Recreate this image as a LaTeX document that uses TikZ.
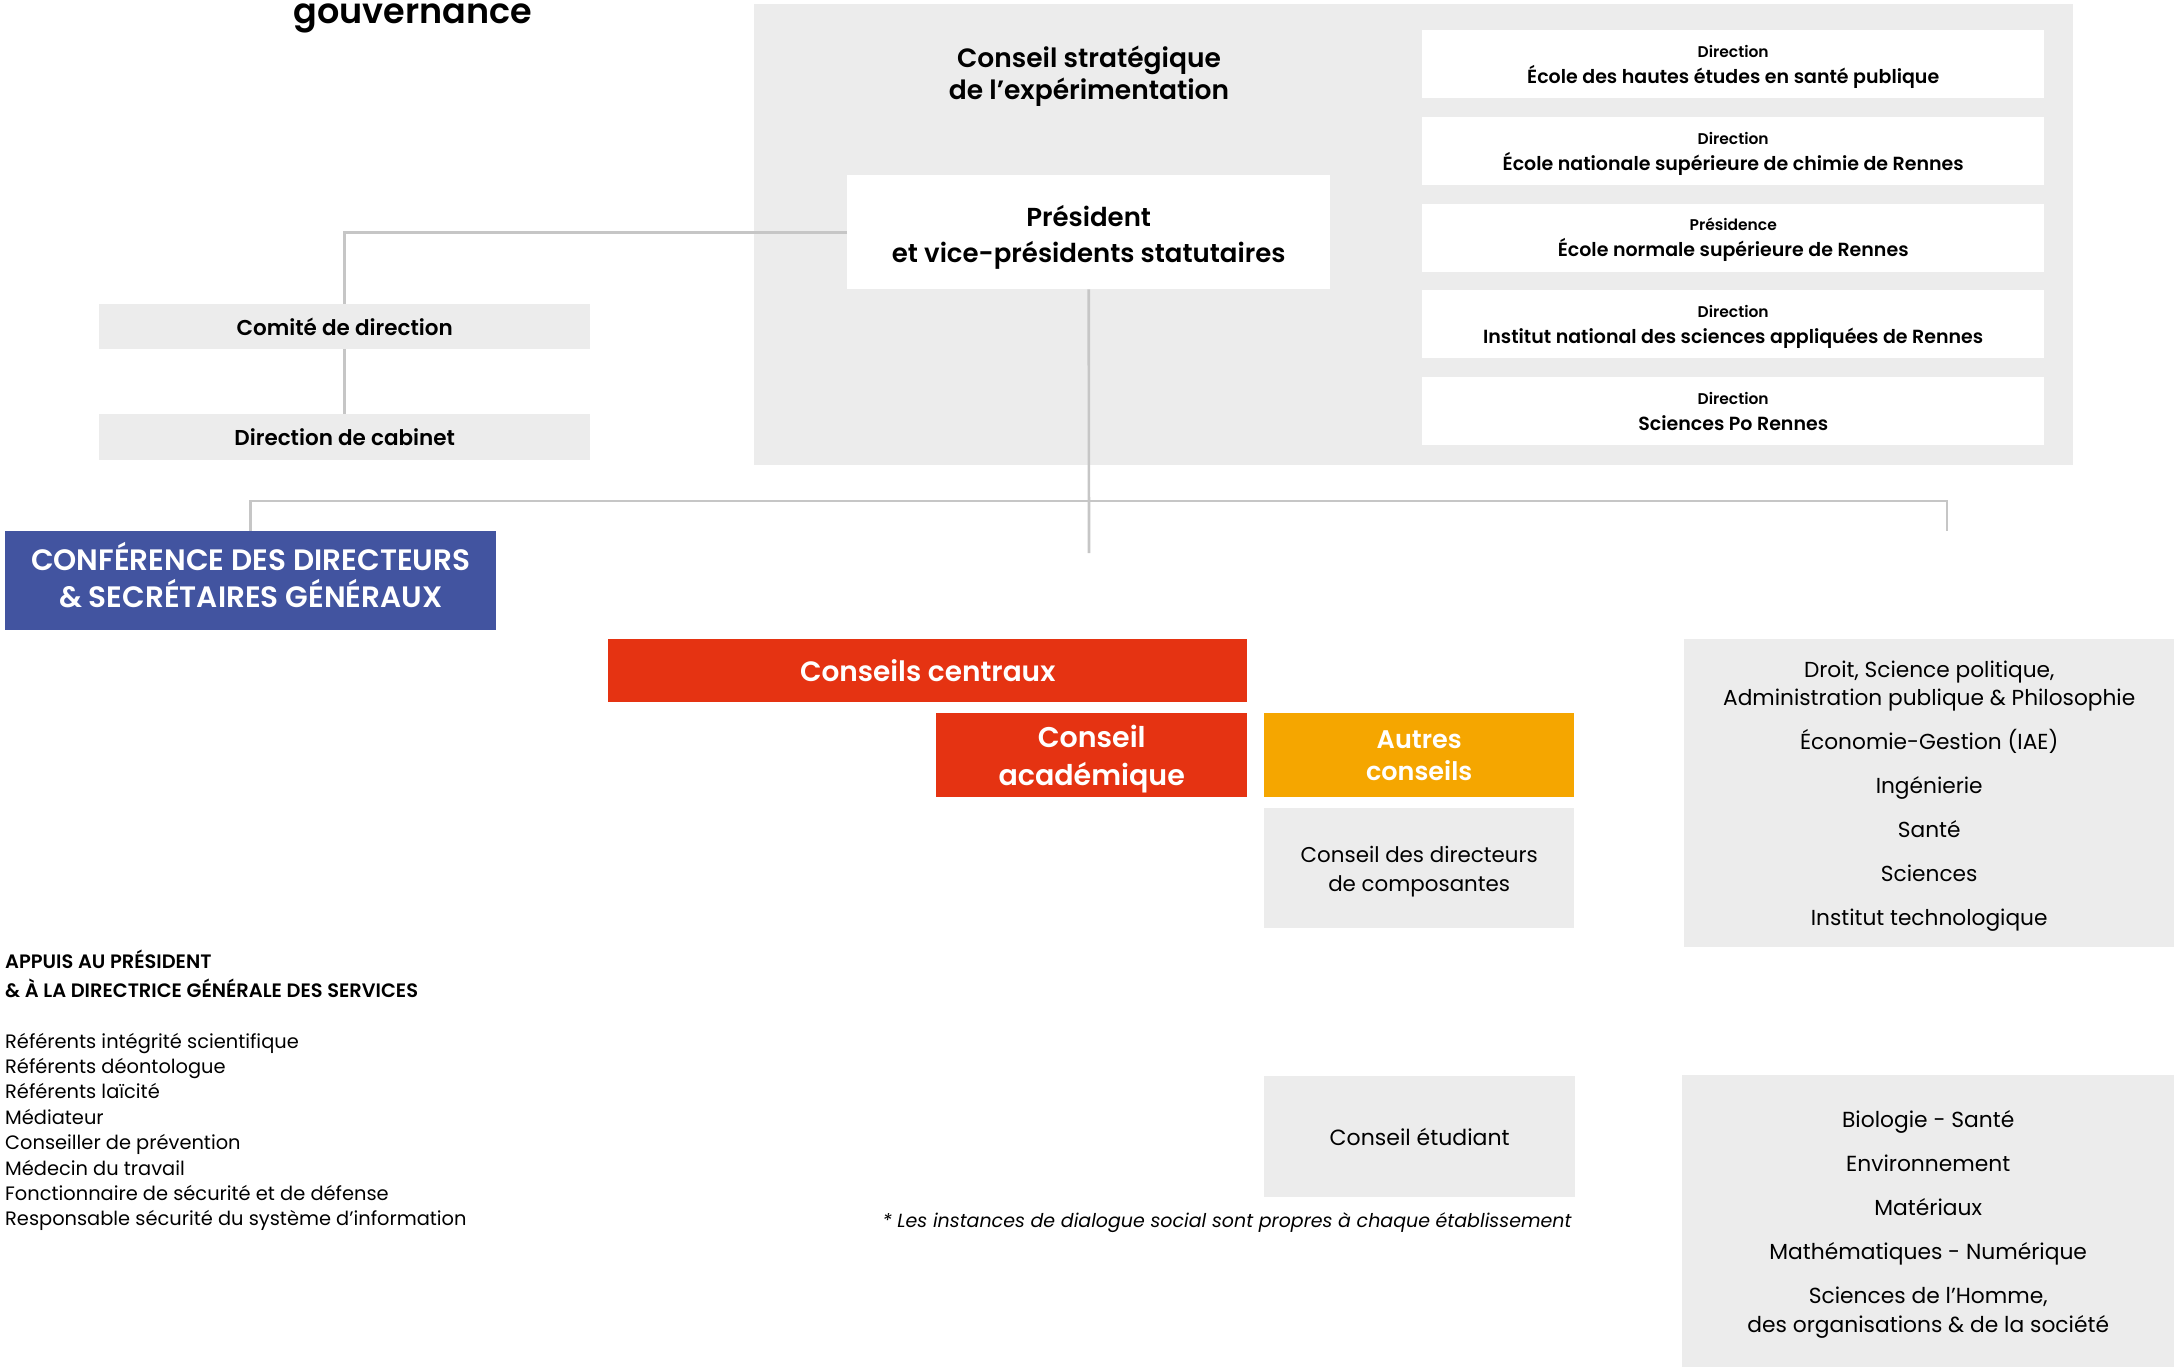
\documentclass[tikz,border=0pt]{standalone}
\usepackage{fontspec}
\setmainfont{Poppins}[BoldFont={Poppins SemiBold}]
\usetikzlibrary{positioning}
\definecolor{panelgrey}{HTML}{ECECEC}
\definecolor{linkgrey}{HTML}{C6C6C6}
\definecolor{confblue}{HTML}{4254A0}
\definecolor{conseilred}{HTML}{E53312}
\definecolor{autresorange}{HTML}{F5A600}
\newcommand{\setfs}[2]{\fontsize{#1}{#2}\selectfont}
\tikzset{
  box/.style={
    anchor=north west,
    inner sep=0pt,
    align=center,
    text=black
  },
  grey box/.style={box, fill=panelgrey},
  white box/.style={box, fill=white},
  colour box/.style={box, fill=#1, text=white},
  last base/.style={text height=#1, text depth=0pt},
  link/.style={draw=linkgrey, line width=2.6pt},
}

\begin{document}
\begin{tikzpicture}[x=1pt,y=-1pt]
\useasboundingbox (0,0) rectangle (2179,1366);
\node[anchor=base, font=\setfs{35}{40}\bfseries] (title) at (413,23) {gouvernance};

% conseil strategique
\node[grey box, minimum width=1319pt, minimum height=461pt] (panel) at (754,4) {};
\node[anchor=center, align=center, font=\setfs{26.5}{32}\bfseries] (cse) at (1089,76) {Conseil stratégique\\de l’expérimentation};
\node[white box, last base=60pt, minimum width=483pt, minimum height=114pt, font=\setfs{26}{36}\bfseries] (pres) at (847,175) {Président\\et vice-présidents statutaires};
\foreach \i/\head/\etab in {1/Direction/École des hautes études en santé publique, 2/Direction/École nationale supérieure de chimie de Rennes, 3/Présidence/École normale supérieure de Rennes, 4/Direction/Institut national des sciences appliquées de Rennes, 5/Direction/Sciences Po Rennes}
  \node[white box, last base=38.6pt, minimum width=622pt, minimum height=68pt, font=\setfs{19}{26}\bfseries] (etab\i) at (1422,{30+86.7*(\i-1)}) {{\setfs{15.5}{26}\head}\\{\etab}};

% gauche
\node[grey box, minimum width=491pt, minimum height=45pt, font=\setfs{21.5}{26}\bfseries] (comite) at (99,304) {Comité de direction};
\node[grey box, minimum width=491pt, minimum height=46pt, font=\setfs{21.5}{26}\bfseries] (cabinet) at (99,414) {Direction de cabinet};
\node[colour box=confblue, last base=53pt, minimum width=491pt, minimum height=99pt, font=\setfs{29.5}{37}\bfseries] (conf) at (5,531) {CONFÉRENCE DES DIRECTEURS\\\& SECRÉTAIRES GÉNÉRAUX};

% conseils
\node[colour box=conseilred, minimum width=639pt, minimum height=63pt, font=\setfs{28}{34}\bfseries] (centraux) at (608,639) {Conseils centraux};
\node[colour box=conseilred, last base=60pt, minimum width=311pt, minimum height=84pt, font=\setfs{28.5}{38}\bfseries] (academique) at (936,713) {Conseil\\académique};
\node[colour box=autresorange, minimum width=310pt, minimum height=84pt, font=\setfs{25.5}{32}\bfseries] (autres) at (1264,713) {Autres\\conseils};
\node[grey box, last base=46pt, minimum width=310pt, minimum height=120pt, font=\setfs{21.4}{29}] (directeurs) at (1264,808) {Conseil des directeurs\\de composantes};
\node[grey box, minimum width=311pt, minimum height=121pt, font=\setfs{22}{29}] (etudiant) at (1264,1076) {Conseil étudiant};
\node[anchor=base east, font=\setfs{19}{24}\itshape] (note) at (1575,1227) {* Les instances de dialogue social sont propres à chaque établissement};

% composantes
\node[grey box, last base=264pt, minimum width=490pt, minimum height=308pt, font=\setfs{21.7}{28}] (ufr) at (1684,639) {Droit, Science politique,\\Administration publique \& Philosophie\\[16pt]Économie-Gestion (IAE)\\[16pt]Ingénierie\\[16pt]Santé\\[16pt]Sciences\\[16pt]Institut technologique};
\node[grey box, minimum width=492pt, minimum height=298pt, font=\setfs{21.8}{29}] (ecoles) at (1682,1075) {Biologie - Santé\\[15pt]Environnement\\[15pt]Matériaux\\[15pt]Mathématiques - Numérique\\[15pt]Sciences de l’Homme,\\des organisations \& de la société};

% appuis
\node[anchor=north west, align=left, inner sep=0pt, font=\setfs{19.4}{29}\bfseries] (appuis) at (5,950) {APPUIS AU PRÉSIDENT\\\& À LA DIRECTRICE GÉNÉRALE DES SERVICES};
\foreach \t [count=\k] in {Référents intégrité scientifique, Référents déontologue, Référents laïcité, Médiateur, Conseiller de prévention, Médecin du travail, Fonctionnaire de sécurité et de défense, Responsable sécurité du système d’information}
  \node[anchor=base west, inner sep=0pt, font=\setfs{19.4}{24}] (appui\k) at (5,{1048+25.4*(\k-1)}) {\t};

\coordinate (stem) at (1089,553);
\coordinate (ufrtop) at (1947,531);
\draw[link] (pres.west) -| (comite.north);
\draw[link] (comite.south) -- (cabinet.north);
\draw[link] (pres.south) -- (stem);
\draw[link] (conf.north) -- ++(0,-30) -| (ufrtop);
\end{tikzpicture}
\end{document}
